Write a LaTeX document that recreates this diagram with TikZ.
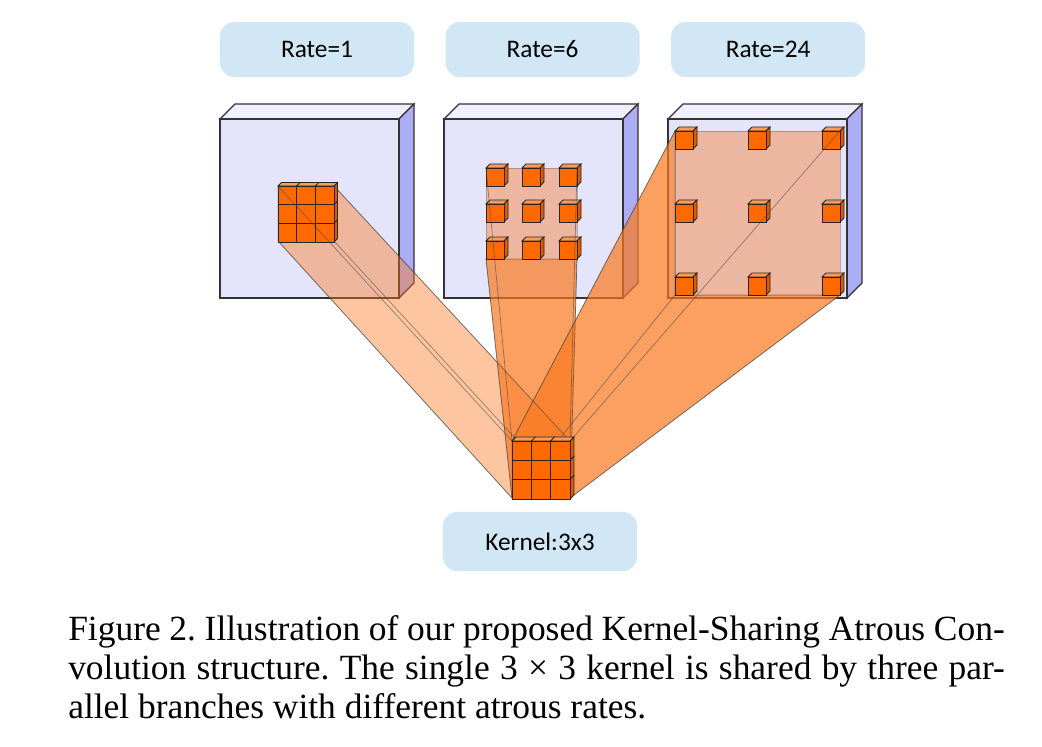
\documentclass[tikz,border=0pt]{standalone}
\usepackage{fontspec}
\setmainfont{Liberation Serif}
\newfontfamily\labelfont{Carlito}
\usepackage{tikz}
\usetikzlibrary{positioning}
\frenchspacing

\definecolor{slabfront}{HTML}{E4E4FA}
\definecolor{slabtop}{HTML}{EFEFFD}
\definecolor{slabside}{HTML}{ADADF7}
\definecolor{beamorange}{HTML}{FA781E}
\definecolor{capsalmon}{HTML}{EDB6A0}
\definecolor{cellfront}{HTML}{FF6A00}
\definecolor{celltop}{HTML}{FF9B55}
\definecolor{cellside}{HTML}{DD5A00}
\definecolor{boxblue}{HTML}{D2E7F5}

% feature map slab, #1 = left x of the front face
\newcommand{\slab}[1]{%
  \draw[slabface=slabtop] (#1,119) -- (#1+15,104) -- (#1+194,104) -- (#1+179,119) -- cycle;
  \draw[slabface=slabside] (#1+179,119) -- (#1+194,104) -- (#1+194,283) -- (#1+179,298) -- cycle;
  \draw[slabface=slabfront] (#1,119) rectangle (#1+179,298);
}
% single cube: x, y, size, depth
\newcommand{\minicube}[4]{%
  \draw[cubeface=celltop] (#1,#2) -- ++(#4,-#4) -- ++(#3,0) -- ++(-#4,#4) -- cycle;
  \draw[cubeface=cellside] (#1+#3,#2) -- ++(#4,-#4) -- ++(0,#3) -- ++(-#4,#4) -- cycle;
  \draw[cubeface=cellfront] (#1,#2) rectangle ++(#3,#3);
}
% 3x3 block: x, y, cell size, depth
\newcommand{\gridcube}[4]{%
  \foreach \i in {0,1,2} {
    \draw[cubeface=celltop] (#1+\i*#3,#2) -- ++(#4,-#4) -- ++(#3,0) -- ++(-#4,#4) -- cycle;
    \draw[cubeface=cellside] (#1+3*#3,#2+\i*#3) -- ++(#4,-#4) -- ++(0,#3) -- ++(-#4,#4) -- cycle;
    \foreach \j in {0,1,2} {
      \draw[cubeface=cellfront] (#1+\i*#3,#2+\j*#3) rectangle ++(#3,#3);
    }
  }
}

\begin{document}
\begin{tikzpicture}[x=0.025cm, y=-0.025cm,
  slabface/.style={draw=black!80, line width=0.8pt, fill=#1},
  cubeface/.style={draw=black!85, line width=0.55pt, fill=#1},
  beam/.style={fill=beamorange, fill opacity=#1, draw=black!70, draw opacity=0.45, line width=0.5pt},
  beamedge/.style={draw=black!75, draw opacity=0.55, line width=0.5pt},
  fieldcap/.style={fill=capsalmon, draw=black!60, draw opacity=0.45, line width=0.4pt},
  ratebox/.style={fill=boxblue, rounded corners=10pt, minimum width=138pt, minimum height=39pt,
    inner sep=0pt, font=\labelfont\fontsize{18}{21}\selectfont},
  captext/.style={anchor=base west, inner sep=0pt, font=\fontsize{25.2}{28}\selectfont}
  ]
  \useasboundingbox (0,0) rectangle (1042,747);

  % Corners of the kernel and of the three fields
  \coordinate (kTL) at (512,441); \coordinate (kTR) at (570,441);
  \coordinate (kBL) at (512,498); \coordinate (kBR) at (570,498);
  \coordinate (aTL) at (278,186); \coordinate (aTR) at (334,186);
  \coordinate (aBL) at (278,241); \coordinate (aBR) at (334,241);
  \coordinate (bTL) at (486,168); \coordinate (bTR) at (577,168);
  \coordinate (bBL) at (486,259); \coordinate (bBR) at (577,259);
  \coordinate (cTL) at (675,131); \coordinate (cTR) at (840,131);
  \coordinate (cBL) at (675,295); \coordinate (cBR) at (840,295);

  % Slabs
  \slab{220}
  \slab{444}
  \slab{668}
  \draw[fieldcap] (bTL) rectangle (bBR);
  \draw[fieldcap] (cTL) rectangle (cBR);

  % Beams
  \draw[beam=0.42] (aTL) -- (aTR) -- (kTR) -- (kBR) -- (kBL) -- (aBL) -- cycle;
  \draw[beam=0.7] (bBL) -- (bBR) -- (kBR) -- (kBL) -- cycle;
  \draw[beam=0.7] (cTL) -- (cBL) -- (cBR) -- (kBR) -- (kBL) -- (kTL) -- cycle;

  % Sampled cubes
  \gridcube{278}{186}{18.67}{3.5}
  \foreach \x in {486,522,559} {
    \foreach \y in {168,204,241} {
      \minicube{\x}{\y}{18}{4}
    }
  }
  \foreach \x in {675,748,822} {
    \foreach \y in {131,204,277} {
      \minicube{\x}{\y}{18}{4}
    }
  }

  \foreach \f in {a,b,c} {
    \foreach \p in {TL,TR,BL,BR} {
      \draw[beamedge] (\f\p) -- (k\p);
    }
  }

  % Kernel
  \gridcube{512}{441}{19.33}{4}

  % Labels
  \node[ratebox] (rate1) at (317,49.5) {Rate=1};
  \node[ratebox, right=22pt of rate1] (rate6) {Rate=6};
  \node[ratebox, right=22pt of rate6] (rate24) {Rate=24};
  \node[ratebox, minimum height=42pt] (kernel) at (540,541.5) {Kernel:3x3};

  % Caption
  \node[captext] (cap1) at (68,641) {\makebox[666pt][s]{Figure 2. Illustration of our proposed Kernel-Sharing Atrous Con-}};
  \node[captext] (cap2) at (68,680) {\makebox[666pt][s]{volution structure. The single 3 × 3 kernel is shared by three par-}};
  \node[captext] (cap3) at (68,719) {allel branches with different atrous rates.};
\end{tikzpicture}
\end{document}
